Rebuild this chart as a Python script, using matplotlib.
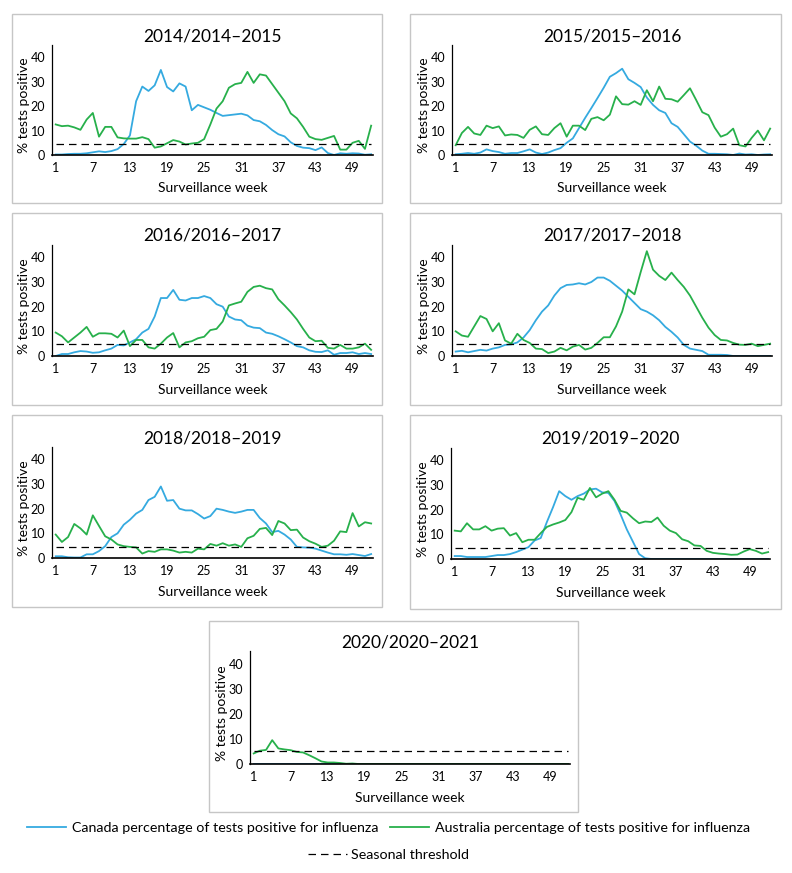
import numpy as np
import matplotlib
matplotlib.use("Agg")
import matplotlib.pyplot as plt
from matplotlib.patches import Rectangle
from matplotlib.lines import Line2D

plt.rcParams['font.family'] = ['Lato', 'DejaVu Sans']

W, H = 792, 873

weeks = np.arange(1, 53)
xticks = [1, 7, 13, 19, 25, 31, 37, 43, 49]
yticks = [0, 10, 20, 30, 40]

titles = ["2014/2014\u20132015", "2015/2015\u20132016", "2016/2016\u20132017",
          "2017/2017\u20132018", "2018/2018\u20132019", "2019/2019\u20132020",
          "2020/2020\u20132021"]

thresholds = [4.7, 4.7, 5.0, 5.0, 4.6, 4.6, 5.1]

canada = [
    # 2014
    [0.2, 0.2, 0.4, 0.5, 0.5, 0.7, 1.1, 1.5, 1.2, 1.6, 2.4, 4.5, 8.0, 22, 28, 26.2, 28.5, 34.8,
     27.8, 26, 29.3, 28, 18.3, 20.5, 19.5, 18.5, 17.2, 16, 16.3, 16.6, 16.9, 16.2, 14.3, 13.8,
     12.3, 10.2, 8.5, 7.6, 5.2, 3.7, 3.0, 2.8, 2.0, 3.1, 0.8, 0, 0.7, 0.5, 0.7, 0.6, 0.1, 0.3],
    # 2015
    [0.3, 0.5, 0.8, 0.5, 1.0, 2.3, 1.6, 1.2, 0.5, 0.8, 0.8, 1.5, 2.3, 1.0, 0.4, 1.0, 2.0, 2.8,
     5.0, 6.8, 11, 15.2, 19.2, 23.3, 27.5, 32, 33.5, 35.3, 31, 29.5, 27.8, 23.5, 20.5, 18.3,
     17.2, 13, 11.5, 8.5, 5.5, 3.8, 1.8, 0.5, 0.5, 0.4, 0.3, 0, 0.6, 0.2, 0.3, 0, 0.2, 0.3],
    # 2016
    [0, 0.8, 0.8, 1.5, 2, 1.8, 1.3, 1.5, 2.3, 3, 4.5, 4.3, 5.5, 6.8, 9.5, 11, 16, 23.5, 23.5,
     26.8, 22.8, 22.5, 23.5, 23.5, 24.3, 23.5, 21, 20, 16, 14.8, 14.5, 12.3, 11.5, 11.3, 9.5,
     9, 8, 6.8, 5.5, 4, 3.5, 2.3, 1.7, 1.6, 2.3, 0.5, 1.2, 1.2, 1.5, 0.8, 1.2, 0.8],
    # 2017
    [1.8, 2.1, 1.5, 2, 2.5, 2.2, 3, 3.5, 4.5, 4.7, 5.5, 7.5, 10.5, 14.5, 18, 20.5, 24.5, 27.5,
     28.8, 29, 29.5, 29, 30, 31.8, 31.8, 30.5, 28.5, 26.5, 24, 21.5, 19, 18, 16.5, 14.5, 11.8,
     9.8, 7.5, 4.5, 3, 2.5, 2, 0.5, 0.5, 0.5, 0.4, 0, 0, 0, 0, 0, 0, 0],
    # 2018
    [0.7, 0.7, 0.3, 0.2, 0.2, 1.5, 1.5, 2.8, 4.8, 8.5, 10, 13.5, 15.5, 18, 19.5, 23.5, 24.8, 29,
     23.2, 23.5, 20, 19.3, 19.3, 17.8, 16, 17, 20, 19.5, 18.8, 18.3, 18.8, 19.5, 19.5, 16.2, 14,
     10.5, 11, 9.5, 7.5, 4.5, 4.3, 4.2, 3.8, 3, 2.2, 1.5, 1.5, 1.3, 1.6, 1.2, 0.8, 1.6],
    # 2019
    [1.2, 1.2, 0.8, 0.8, 0.8, 0.8, 1.2, 1.6, 1.6, 2.0, 2.8, 3.8, 4.8, 7.5, 8.5, 15, 21, 27.5,
     25.5, 24, 25.5, 26.5, 28.2, 28.5, 27, 26.8, 23.5, 18, 12, 7, 2, 0.3, 0, 0, 0, 0, 0, 0, 0,
     0, 0, 0, 0, 0, 0, 0, 0, 0, 0, 0, 0, 0],
    # 2020
    [0.1, 0.1, 0.1, 0.1, 0.1, 0.1, 0.1, 0.1, 0.1, 0.1, 0.1, 0.1, 0.1, 0.1, 0.1, 0.1, 0.1, 0.1,
     0.1, 0.1, 0.1, 0.1, 0.1, 0.1, 0.1, 0.1, 0.1, 0.1, 0.1, 0.1, 0.1, 0.1, 0.1, 0.1, 0.1, 0.1,
     0.1, 0.1, 0.1, 0.1, 0.1, 0.1, 0.1, 0.1, 0.1, 0.1, 0.1, 0.1, 0.1, 0.1, 0.1, 0.1],
]

australia = [
    # 2014
    [12.5, 11.8, 12.0, 11.3, 10.3, 14.5, 17.2, 7.5, 11.5, 11.5, 7.2, 6.8, 6.7, 6.7, 7.3, 6.5, 3.0,
     3.5, 4.8, 6.1, 5.5, 4.3, 4.7, 5.0, 6.5, 12.5, 19.0, 22.0, 27.5, 29.0, 29.5, 34.0, 29.5, 33.0,
     32.5, 29.0, 25.5, 22.0, 17.0, 15.0, 11.5, 7.5, 6.5, 6.2, 7.0, 7.8, 2.2, 2.2, 5.0, 5.8, 2.5, 12.0],
    # 2015
    [4.0, 9, 11.5, 8.8, 8.2, 12, 11, 11.7, 8, 8.4, 8.2, 7, 10.3, 11.7, 8.5, 8.2, 11, 13, 7.5, 12,
     12, 10.2, 14.8, 15.5, 14.2, 16.5, 24, 20.8, 20.6, 22, 20.5, 26.5, 22, 28, 23, 22.8, 21.8,
     24.5, 27.3, 22.5, 17.5, 16.3, 11.2, 7.5, 8.5, 10.8, 4, 3.5, 7, 10, 6, 10.8],
    # 2016
    [9.5, 8, 5.5, 7.5, 9.5, 11.8, 7.8, 9.2, 9.2, 9, 7.5, 10.3, 4, 6.5, 6.5, 3.5, 3, 5, 7.5, 9.3,
     3.5, 5.5, 6, 7.2, 7.8, 10.5, 11, 14, 20.5, 21.3, 22, 26, 28, 28.5, 27.5, 27, 23, 20.5, 17.8,
     14.8, 11, 7.5, 6, 6.2, 3.3, 3, 4.5, 3, 3, 3.5, 5, 2.5],
    # 2017
    [10, 8.3, 7.8, 12, 16.2, 15, 10, 13.3, 6.3, 5, 9, 6.5, 5.3, 3, 2.8, 1.2, 1.8, 3.3, 2.3, 3.8,
     4.5, 2.6, 3.3, 5.3, 7.6, 7.6, 12, 18, 27, 25, 34, 42.5, 35, 32.5, 30.8, 33.8, 30.8, 28, 24.5,
     20, 15.5, 11.5, 8.5, 6.5, 6.3, 5.3, 4.6, 4.5, 5, 4, 4.5, 5],
    # 2018
    [9.5, 6.5, 8.5, 13.8, 12, 9.5, 17.3, 13, 8.8, 7.5, 5.5, 4.8, 4.5, 4.3, 1.8, 2.8, 2.5, 3.5, 3.5,
     3, 2.2, 2.5, 2.2, 3.8, 3.5, 5.7, 5, 6, 5, 5.5, 4.5, 8, 9, 11.8, 12.2, 9.3, 15, 14, 11.3, 11.5,
     8.3, 6.8, 5.8, 4.5, 5, 7, 10.8, 10.5, 18.2, 12.8, 14.5, 14],
    # 2019
    [11.5, 11.2, 14.5, 12, 12, 13.3, 11.5, 12.3, 12.5, 9.5, 10.5, 6.8, 7.8, 7.8, 10.5, 13, 14, 14.8,
     15.8, 19, 24.8, 24, 28.8, 25, 26.5, 27.5, 24, 19.5, 18.8, 16.5, 14.5, 15.2, 15, 16.8, 13.5,
     11.5, 10.5, 8, 7.2, 5.5, 5.3, 3.3, 2.5, 2.2, 2, 1.7, 1.8, 3.0, 4.0, 3.3, 2.2, 2.8],
    # 2020
    [4.2, 5.3, 5.6, 9.5, 6.2, 5.8, 5.5, 4.8, 4.6, 3.5, 2.3, 1.0, 0.6, 0.6, 0.4, 0.1, 0.2, 0, 0, 0,
     0, 0, 0, 0, 0, 0, 0, 0, 0, 0, 0, 0, 0, 0, 0, 0, 0, 0, 0, 0, 0, 0, 0, 0, 0, 0, 0, 0, 0, 0, 0, 0],
]

# pixel boxes: axes (left, top, right, bottom) and panel frames
axes_px = [(52, 45, 373, 155), (452, 45, 772, 155),
           (52, 245, 373, 356), (452, 245, 772, 356),
           (52, 447, 373, 558), (451, 448, 770, 559),
           (250, 651, 570, 764)]
frames_px = [(12, 14, 382, 203), (410, 14, 781, 203),
             (12, 213, 382, 405), (410, 213, 781, 405),
             (12, 415, 382, 607), (410, 415, 781, 609),
             (209, 621, 578, 812)]

BLUE = "#35aae0"
GREEN = "#27b04b"

fig = plt.figure(figsize=(W / 100, H / 100), dpi=100)

for (l, t, r, b) in frames_px:
    fig.patches.append(Rectangle((l / W, 1 - b / H), (r - l) / W, (b - t) / H,
                                 transform=fig.transFigure, fill=False,
                                 edgecolor="#c6c6c6", lw=1.0))

for i in range(7):
    l, t, r, b = axes_px[i]
    ax = fig.add_axes([l / W, 1 - b / H, (r - l) / W, (b - t) / H])
    ax.plot(weeks, canada[i], color=BLUE, lw=1.3)
    ax.plot(weeks, australia[i], color=GREEN, lw=1.3)
    ax.plot(weeks, [thresholds[i]] * len(weeks), color="black", lw=0.9, dashes=(6, 4))
    ax.set_xlim(0.4, 52.3)
    ax.set_ylim(0, 45)
    ax.set_xticks(xticks)
    ax.set_yticks(yticks)
    ax.tick_params(length=0, labelsize=9)
    ax.tick_params(axis="x", pad=5)
    ax.tick_params(axis="y", pad=5)
    for s in ["top", "right"]:
        ax.spines[s].set_visible(False)
    ax.spines["left"].set_linewidth(0.9)
    ax.spines["bottom"].set_linewidth(1.2)
    ax.set_xlabel("Surveillance week", fontsize=10)
    ax.xaxis.set_label_coords(0.5, -0.25)
    ax.set_ylabel("% tests positive", fontsize=10)
    ax.yaxis.set_label_coords(-0.068, 0.45)
    fig.text((l + r) / 2 / W, 1 - (t - 9) / H, titles[i], ha="center", va="center", fontsize=12.5)

h1 = Line2D([], [], color=BLUE, lw=1.3)
h2 = Line2D([], [], color=GREEN, lw=1.3)
h3 = Line2D([], [], color="black", lw=0.9, dashes=(6, 4))
fig.legend([h1, h2], ["Canada percentage of tests positive for influenza",
                      "Australia percentage of tests positive for influenza"],
           loc="center", bbox_to_anchor=(0.491, 1 - 828 / H), ncol=2, frameon=False,
           fontsize=10.3, handlelength=2.7, columnspacing=0.8, handletextpad=0.45,
           borderpad=0, borderaxespad=0)
fig.legend([h3], ["Seasonal threshold"], loc="center", bbox_to_anchor=(0.491, 1 - 855 / H),
           frameon=False, fontsize=10.3, handlelength=2.7, handletextpad=0.3,
           borderpad=0, borderaxespad=0)

fig.savefig("out.png", dpi=100)
